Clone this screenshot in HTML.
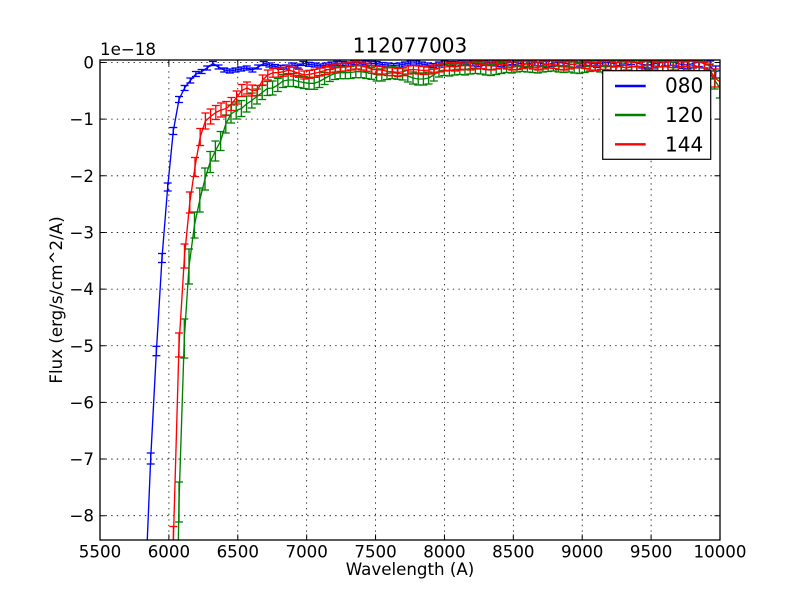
<!DOCTYPE html>
<html>
<head>
<meta charset="utf-8">
<style>
html,body{margin:0;padding:0;background:#fff;width:800px;height:600px;overflow:hidden;}
svg{display:block;position:absolute;left:0;top:0;}
text{font-family:"DejaVu Sans","Liberation Sans",sans-serif;fill:#000;}
</style>
</head>
<body>
<svg width="800" height="600" viewBox="0 0 800 600" xmlns="http://www.w3.org/2000/svg">
<defs>
<clipPath id="ax"><rect x="100" y="60" width="620" height="480"/></clipPath>
<marker id="cb" markerWidth="10" markerHeight="4" refX="5" refY="2" markerUnits="userSpaceOnUse" overflow="visible"><path d="M1 2H9" stroke="#0000ff" stroke-width="1.3"/></marker>
<marker id="cg" markerWidth="10" markerHeight="4" refX="5" refY="2" markerUnits="userSpaceOnUse" overflow="visible"><path d="M1 2H9" stroke="#008000" stroke-width="1.3"/></marker>
<marker id="cr" markerWidth="10" markerHeight="4" refX="5" refY="2" markerUnits="userSpaceOnUse" overflow="visible"><path d="M1 2H9" stroke="#ff0000" stroke-width="1.3"/></marker>
</defs>
<rect width="800" height="600" fill="#fff"/>

<!-- grid -->
<g stroke="#000" stroke-width="0.8" stroke-dasharray="1.4 4.2" fill="none">
<path d="M168.89 60V540M237.78 60V540M306.67 60V540M375.56 60V540M444.44 60V540M513.33 60V540M582.22 60V540M651.11 60V540"/>
<path d="M100 62.5H720M100 119.15H720M100 175.8H720M100 232.45H720M100 289.1H720M100 345.75H720M100 402.4H720M100 459.05H720M100 515.7H720"/>
</g>

<g clip-path="url(#ax)" fill="none" stroke-width="1.35" stroke-linejoin="round">
<!-- blue 080 -->
<polyline stroke="#0000ff" points="147.05,545 150.7,458.5 156.4,351 162,258 167.7,187 173.3,131 179,99.5 184.6,88 190.3,80.5 195.9,74 201.6,71.5 207.2,68 212.9,63.5 218.5,67 224.2,70 229.8,71 235.5,70 241.1,69 246.8,68 252.4,70 258.1,67 263.7,63.5 269.4,65 275,66.5 280.7,67.3 286.3,67 292,65 297.6,66 303.3,63.5 308.9,64.3 314.6,65 320.2,66 325.9,65 331.5,64 337.2,63.3 342.8,63.5 348.5,64 354.1,62.5 359.8,62 365.4,63 371.1,63.3 376.7,63.5 382.4,64.5 388,65 393.7,65.5 399.3,65 405,64 410.6,63 416.3,63 421.9,64 427.6,65 433.2,65.5 438.9,64 444.5,63 450.2,63.5 455.8,64 461.5,63 467.1,62.5 472.8,63.5 478.4,64 484.1,63 489.7,62.5 495.4,63.5 501,64 506.7,63 512.3,62 518,63 523.6,64 529.3,63.5 534.9,62.5 540.6,63 546.2,64.5 551.9,63.5 557.5,62.5 563.2,63 568.8,64 574.5,64.5 580.1,63 585.8,62.5 591.4,63.5 597.1,64 602.7,63 608.4,62.5 614,63.5 619.7,62 625.3,60.5 631,61 636.6,63 642.3,64.5 647.9,65 653.6,64 659.2,63 664.9,62 670.5,61.5 676.2,63 681.8,64.5 687.5,65 693.1,63.5 698.8,62 704.4,63.5 710.1,66 715.7,72 719.5,70.5"/>
<path stroke="#0000ff" marker-start="url(#cb)" marker-mid="url(#cb)" marker-end="url(#cb)" d="M150.7 453V464M156.4 346.3V355.7M162 253.5V262.5M167.7 183V191M173.3 127.5V134.5M179 96.5V102.5M184.6 85.5V90.5M190.3 78V83M195.9 71.5V76.5M201.6 69.5V73.5M207.2 66V70M212.9 61.5V65.5M218.5 65V69M224.2 68V72M229.8 69V73M235.5 68V72M241.1 67V71M246.8 66V70M252.4 68V72M258.1 65V69M263.7 61.5V65.5M269.4 63V67M275 64.5V68.5M280.7 65.3V69.3M286.3 65V69M292 63V67M297.6 64V68M303.3 61.5V65.5M308.9 62.3V66.3M314.6 63V67M320.2 64V68M325.9 63V67M331.5 62V66M337.2 61.3V65.3M342.8 61.5V65.5M348.5 62V66M354.1 60.5V64.5M359.8 60V64M365.4 61V65M371.1 61.3V65.3M376.7 61.5V65.5M382.4 62.5V66.5M388 63V67M393.7 63.5V67.5M399.3 63V67M405 62V66M410.6 61V65M416.3 61V65M421.9 62V66M427.6 63V67M433.2 63.5V67.5M438.9 62V66M444.5 61V65M450.2 61.5V65.5M455.8 61.5V66.5M461.5 60.5V65.5M467.1 60V65M472.8 61V66M478.4 61.5V66.5M484.1 60.5V65.5M489.7 60V65M495.4 61V66M501 61.5V66.5M506.7 60.5V65.5M512.3 59.5V64.5M518 60.5V65.5M523.6 61V67M529.3 60.5V66.5M534.9 59.5V65.5M540.6 60V66M546.2 61.5V67.5M551.9 60.5V66.5M557.5 59.5V65.5M563.2 60V66M568.8 61V67M574.5 61.5V67.5M580.1 60V66M585.8 59.5V65.5M591.4 60.5V66.5M597.1 60.5V67.5M602.7 59.5V66.5M608.4 59V66M614 60V67M619.7 58.5V65.5M625.3 57V64M631 57.5V64.5M636.6 59.5V66.5M642.3 61V68M647.9 61V69M653.6 60V68M659.2 59V67M664.9 58V66M670.5 57.5V65.5M676.2 59V67M681.8 60.5V68.5M687.5 61V69M693.1 59V68M698.8 57.5V66.5M704.4 59V68M710.1 61V71M715.7 66V78"/>

<!-- green 120 -->
<polyline stroke="#008000" points="178.28,545 179,502 184.3,338.5 189,266.5 194.5,225 199.8,200 205,179 210.2,162 215.4,151 220.6,141 225.8,124 231,114 236.2,110.5 241.4,108.5 246.6,104 251.8,100.5 257,96.5 262.2,92.5 267.4,88.5 272.6,88 277.8,85 283,81 288.2,80 293.4,80 298.6,81.5 303.8,82.5 309,83.3 314.2,83.3 319.4,81.5 324.6,78.5 329.8,75.5 335,73.5 340.2,72.7 345.4,72.7 350.6,72.5 355.8,71.7 361,71.7 366.2,72.5 371.4,73.3 376.6,75 381.8,75 387,73.5 392.2,72.7 397.4,73.3 402.6,74 407.8,76 413,78 418.2,79 423.4,79 428.6,78 433.8,75 439,71 444.2,70 449.4,70.5 454.6,69.5 459.8,69 465,69.5 470.2,68.5 475.4,68 480.6,68.5 485.8,69.5 491,70 496.2,69 501.4,68 506.6,67 511.8,67.5 517,66.5 522.2,66 527.4,66.5 532.6,67 537.8,67.5 543,66.5 548.2,66 553.4,65.5 558.6,66.5 563.8,67 569,66.5 574.2,67.5 579.4,68 584.6,67 589.8,66 595,65.5 600.2,66 605.4,67 610.6,66.5 615.8,66 621,67 626.2,68 631.4,67 636.6,66 641.8,66.5 647,67.5 652.2,68 657.4,67 662.6,66.5 667.8,67 673,68 678.2,67.5 683.4,66.5 688.6,67 693.8,68 699,67 704.2,68 709.4,72 714.6,80 719.8,88"/>
<path stroke="#008000" marker-start="url(#cg)" marker-mid="url(#cg)" marker-end="url(#cg)" d="M179 482V522M184.3 319V358M189 249V284M194.5 212V238M199.8 188V212M205 168V190M210.2 151.5V172.5M215.4 141V161M220.6 131.5V150.5M225.8 115V133M231 105V123M236.2 102V119M241.4 100.5V116.5M246.6 96V112M251.8 93V108M257 89V104M262.2 85.5V99.5M267.4 81.5V95.5M272.6 81V95M277.8 78.5V91.5M283 74.5V87.5M288.2 73.5V86.5M293.4 73.5V86.5M298.6 75.5V87.5M303.8 76.5V88.5M309 77.3V89.3M314.2 77.3V89.3M319.4 75.5V87.5M324.6 72.5V84.5M329.8 69.5V81.5M335 67.5V79.5M340.2 66.7V78.7M345.4 66.7V78.7M350.6 66.5V78.5M355.8 65.7V77.7M361 65.7V77.7M366.2 66.5V78.5M371.4 67.3V79.3M376.6 69V81M381.8 69V81M387 67.5V79.5M392.2 66.7V78.7M397.4 67.3V79.3M402.6 68V80M407.8 70V82M413 72V84M418.2 73V85M423.4 73V85M428.6 72V84M433.8 69V81M439 65V77M444.2 64.5V75.5M449.4 65V76M454.6 64V75M459.8 63.5V74.5M465 64V75M470.2 63V74M475.4 62.5V73.5M480.6 63V74M485.8 64V75M491 64.5V75.5M496.2 63.5V74.5M501.4 62.5V73.5M506.6 61.5V72.5M511.8 62V73M517 61V72M522.2 60.5V71.5M527.4 61V72M532.6 61.5V72.5M537.8 62V73M543 61V72M548.2 60.5V71.5M553.4 60V71M558.6 61V72M563.8 61.5V72.5M569 61V72M574.2 62V73M579.4 62.5V73.5M584.6 61.5V72.5M589.8 60.5V71.5M595 60V71M600.2 60V72M605.4 61V73M610.6 60.5V72.5M615.8 60V72M621 61V73M626.2 62V74M631.4 61V73M636.6 60V72M641.8 60.5V72.5M647 61.5V73.5M652.2 62V74M657.4 61V73M662.6 60.5V72.5M667.8 61V73M673 62V74M678.2 61.5V73.5M683.4 60.5V72.5M688.6 61V73M693.8 61.5V74.5M699 60.5V73.5M704.2 61.5V74.5M709.4 65V79M714.6 71V89M719.8 78V98"/>

<!-- red 144 -->
<polyline stroke="#ff0000" points="173.25,545 173.4,539 179,345 184.5,256 189.8,202.5 195,167 200.2,137 205.4,121 210.6,116.5 215.8,112.5 221,110 226.2,108.5 231.4,104 236.6,97.5 241.8,90.5 247,88 252.2,90.5 257.4,90.5 262.6,80 267.8,75 273,72.7 278.2,72.7 283.4,71.7 288.6,70 293.8,71.7 299,73.3 304.2,75 309.4,74.3 314.6,73.3 319.8,72 325,70.5 330.2,69 335.4,68 340.6,67.3 345.8,67 351,66 356.2,65 361.4,66 366.6,67.3 371.8,69.3 377,70 382.2,70 387.4,71.5 392.6,71.7 397.8,72.5 403,71.7 408.2,70 413.4,69.5 418.6,70 423.8,70.5 429,70 434.2,69 439.4,68 444.6,67 449.8,66.5 455,67 460.2,66 465.4,65.5 470.6,66 475.8,65 481,64.5 486.2,65.5 491.4,66 496.6,65 501.8,64 507,65 512.2,66 517.4,65.5 522.6,64.5 527.8,64 533,65 538.2,66 543.4,65 548.6,64 553.8,64.5 559,65.5 564.2,66 569.4,65 574.6,64 579.8,63.5 585,64.5 590.2,66 595.4,66.5 600.6,65.5 605.8,65 611,66 616.2,67 621.4,66 626.6,65.5 631.8,66.5 637,67 642.2,66 647.4,65 652.6,65.5 657.8,66.5 663,67 668.2,66 673.4,65 678.6,66 683.8,67 689,66 694.2,65.5 699.4,67 704.6,68 709.8,70 715,78 719.8,81.7"/>
<path stroke="#ff0000" marker-start="url(#cr)" marker-mid="url(#cr)" marker-end="url(#cr)" d="M173.4 526.5V545M179 333V357M184.5 244V268M189.8 192V213M195 157.5V176.5M200.2 128.5V145.5M205.4 113V129M210.6 109V124M215.8 105.5V119.5M221 103V117M226.2 101.5V115.5M231.4 97.5V110.5M236.6 91V104M241.8 84.5V96.5M247 82V94M252.2 85V96M257.4 85.5V95.5M262.6 75V85M267.8 70V80M273 68.2V77.2M278.2 68.2V77.2M283.4 67.2V76.2M288.6 65.5V74.5M293.8 67.2V76.2M299 69.3V77.3M304.2 71V79M309.4 70.3V78.3M314.6 69.3V77.3M319.8 68V76M325 66.5V74.5M330.2 65V73M335.4 64V72M340.6 63.3V71.3M345.8 63V71M351 62V70M356.2 61V69M361.4 62V70M366.6 63.3V71.3M371.8 65.3V73.3M377 66V74M382.2 66V74M387.4 67.5V75.5M392.6 67.7V75.7M397.8 68.5V76.5M403 67.7V75.7M408.2 66V74M413.4 65.5V73.5M418.6 66V74M423.8 66.5V74.5M429 66V74M434.2 65V73M439.4 64V72M444.6 63V71M449.8 62.5V70.5M455 63V71M460.2 62V70M465.4 61.5V69.5M470.6 62V70M475.8 61V69M481 60.5V68.5M486.2 61.5V69.5M491.4 62V70M496.6 61V69M501.8 60V68M507 61V69M512.2 62V70M517.4 61.5V69.5M522.6 60.5V68.5M527.8 60V68M533 61V69M538.2 62V70M543.4 61V69M548.6 60V68M553.8 60.5V68.5M559 61.5V69.5M564.2 62V70M569.4 61V69M574.6 60V68M579.8 59.5V67.5M585 60.5V68.5M590.2 62V70M595.4 62.5V70.5M600.6 61.5V69.5M605.8 60.5V69.5M611 61.5V70.5M616.2 62.5V71.5M621.4 61.5V70.5M626.6 61V70M631.8 62V71M637 62.5V71.5M642.2 61.5V70.5M647.4 60.5V69.5M652.6 61V70M657.8 62V71M663 62V72M668.2 61V71M673.4 60V70M678.6 61V71M683.8 62V72M689 61V71M694.2 60.5V70.5M699.4 62V72M704.6 62.5V73.5M709.8 64V76M715 69V87"/>
</g>

<!-- ticks -->
<g stroke="#000" stroke-width="1">
<path d="M168.89 540v-5.5M237.78 540v-5.5M306.67 540v-5.5M375.56 540v-5.5M444.44 540v-5.5M513.33 540v-5.5M582.22 540v-5.5M651.11 540v-5.5"/>
<path d="M168.89 60v5.5M237.78 60v5.5M306.67 60v5.5M375.56 60v5.5M444.44 60v5.5M513.33 60v5.5M582.22 60v5.5M651.11 60v5.5"/>
<path d="M100 62.5h5.5M100 119.15h5.5M100 175.8h5.5M100 232.45h5.5M100 289.1h5.5M100 345.75h5.5M100 402.4h5.5M100 459.05h5.5M100 515.7h5.5"/>
<path d="M720 62.5h-5.5M720 119.15h-5.5M720 175.8h-5.5M720 232.45h-5.5M720 289.1h-5.5M720 345.75h-5.5M720 402.4h-5.5M720 459.05h-5.5M720 515.7h-5.5"/>
</g>

<!-- frame -->
<rect x="100" y="60" width="620" height="480" fill="none" stroke="#000" stroke-width="1.3"/>

<!-- legend -->
<rect x="602.7" y="70.7" width="108" height="88.6" fill="#fff" stroke="#000" stroke-width="1.2"/>
<g stroke-width="2.4">
<line x1="615" y1="86" x2="645.7" y2="86" stroke="#0000ff"/>
<line x1="615" y1="115" x2="645.7" y2="115" stroke="#008000"/>
<line x1="615" y1="144.3" x2="645.7" y2="144.3" stroke="#ff0000"/>
</g>
<g font-size="20">
<text x="665" y="92.7">080</text>
<text x="665" y="122">120</text>
<text x="665" y="151.7">144</text>
</g>

<!-- tick labels -->
<g font-size="16.67" text-anchor="middle">
<text x="100" y="557.3">5500</text>
<text x="168.89" y="557.3">6000</text>
<text x="237.78" y="557.3">6500</text>
<text x="306.67" y="557.3">7000</text>
<text x="375.56" y="557.3">7500</text>
<text x="444.44" y="557.3">8000</text>
<text x="513.33" y="557.3">8500</text>
<text x="582.22" y="557.3">9000</text>
<text x="651.11" y="557.3">9500</text>
<text x="720" y="557.3">10000</text>
</g>
<g font-size="16.67" text-anchor="end">
<text x="94" y="68.5">0</text>
<text x="94" y="125.15">−1</text>
<text x="94" y="181.8">−2</text>
<text x="94" y="238.45">−3</text>
<text x="94" y="295.1">−4</text>
<text x="94" y="351.75">−5</text>
<text x="94" y="408.4">−6</text>
<text x="94" y="465.05">−7</text>
<text x="94" y="521.7">−8</text>
</g>

<text x="100" y="55" font-size="16.67">1e−18</text>
<text x="410" y="52.7" font-size="20" text-anchor="middle">112077003</text>
<text x="410" y="575" font-size="16.67" text-anchor="middle">Wavelength (A)</text>
<text transform="translate(62,300) rotate(-90)" font-size="16.67" text-anchor="middle">Flux (erg/s/cm^2/A)</text>
</svg>
</body>
</html>
